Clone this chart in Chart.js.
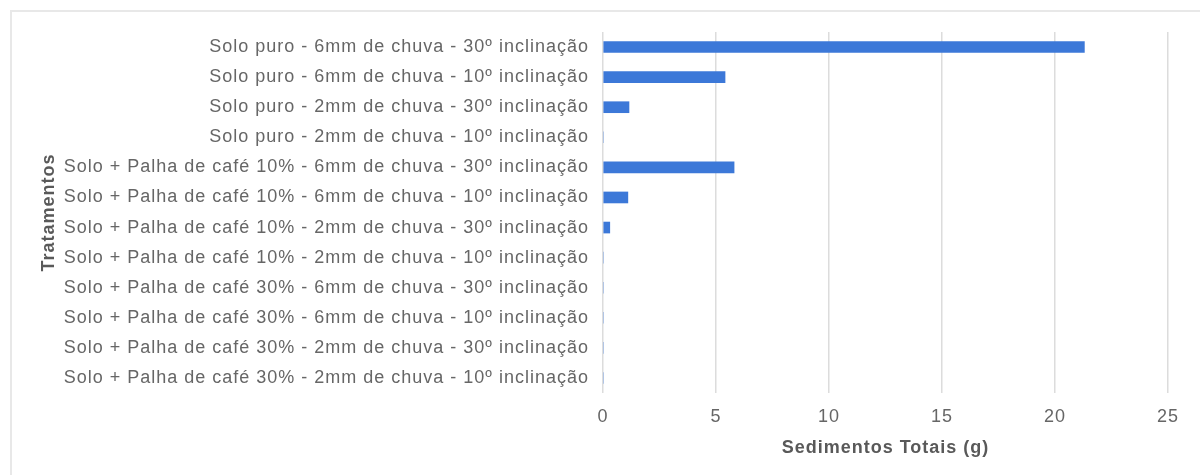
<!DOCTYPE html>
<html>
<head>
<meta charset="utf-8">
<script src="https://cdn.jsdelivr.net/npm/chart.js@4"></script>
<style>
    body { margin: 0; background: #fff; }
    #wrap { position: relative; width: 1200px; height: 475px; }
    #frame { position: absolute; left: 10px; top: 10px; width: 1200px; height: 480px; border: 2px solid #e8e8e8; box-sizing: border-box; }
    canvas { position: absolute; left: 0; top: 0; }
</style>
</head>
<body>
<div id="wrap">
    <div id="frame"></div>
    <canvas id="chart1" width="1200" height="475"></canvas>
</div>
<script>
const tratamentos = [
    'Solo puro - 6mm de chuva - 30º inclinação',
    'Solo puro - 6mm de chuva - 10º inclinação',
    'Solo puro - 2mm de chuva - 30º inclinação',
    'Solo puro - 2mm de chuva - 10º inclinação',
    'Solo + Palha de café 10% - 6mm de chuva - 30º inclinação',
    'Solo + Palha de café 10% - 6mm de chuva - 10º inclinação',
    'Solo + Palha de café 10% - 2mm de chuva - 30º inclinação',
    'Solo + Palha de café 10% - 2mm de chuva - 10º inclinação',
    'Solo + Palha de café 30% - 6mm de chuva - 30º inclinação',
    'Solo + Palha de café 30% - 6mm de chuva - 10º inclinação',
    'Solo + Palha de café 30% - 2mm de chuva - 30º inclinação',
    'Solo + Palha de café 30% - 2mm de chuva - 10º inclinação'
];
const sedimentos = [21.3, 5.4, 1.15, 0, 5.8, 1.1, 0.3, 0, 0, 0, 0, 0];
const xMax = 25;
const xStep = 5;

const ctx = document.querySelector('#chart1').getContext('2d');

// the original text is a bit wider than Arial, so space the letters out
const spacing = {
    id: 'spacing',
    beforeDraw(chart) { chart.ctx.letterSpacing = '1px'; }
};

new Chart(ctx, {
    type: 'bar',
    data: {
        labels: tratamentos,
        datasets: [{
            label: 'Sedimentos Totais (g)',
            data: sedimentos,
            backgroundColor: '#3c78d8',
            barThickness: 11
        }]
    },
    options: {
        indexAxis: 'y',
        responsive: false,
        animation: false,
        layout: {
            padding: { left: 38, right: 32, top: 32, bottom: 16 }
        },
        plugins: {
            legend: { display: false },
            tooltip: { enabled: false }
        },
        scales: {
            x: {
                min: 0,
                max: xMax,
                ticks: {
                    stepSize: xStep,
                    padding: 13,
                    color: '#666',
                    font: { family: 'Liberation Sans', size: 18 }
                },
                grid: { color: '#dcdcdc', lineWidth: 1.5, drawTicks: false },
                border: { display: false },
                title: {
                    display: true,
                    text: 'Sedimentos Totais (g)',
                    color: '#595959',
                    padding: 0,
                    font: { family: 'Liberation Sans', size: 18, weight: 'bold' }
                },
                afterFit: scale => { scale.height = 66; }
            },
            y: {
                ticks: {
                    padding: 14,
                    color: '#666',
                    font: { family: 'Liberation Sans', size: 18 }
                },
                grid: { display: false, drawTicks: false },
                border: { display: false },
                title: {
                    display: true,
                    text: 'Tratamentos',
                    color: '#595959',
                    padding: 0,
                    font: { family: 'Liberation Sans', size: 18, weight: 'bold' }
                },
                afterFit: scale => { scale.width = 565; }
            }
        }
    },
    plugins: [spacing]
});
</script>
</body>
</html>
